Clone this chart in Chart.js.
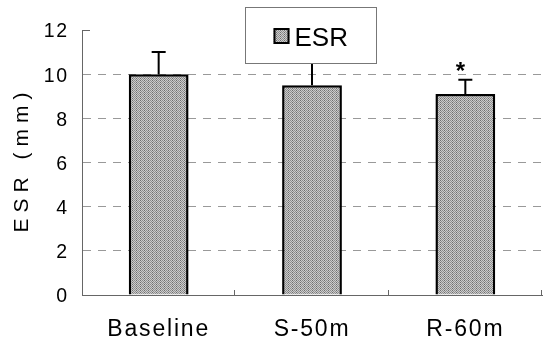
<!DOCTYPE html>
<html>
<head>
<meta charset="utf-8">
<script src="https://cdn.jsdelivr.net/npm/chart.js@4/dist/chart.umd.min.js"></script>
<style>
    html, body { margin: 0; padding: 0; background: #fff; }
    #wrap { width: 543px; height: 343px; }
</style>
</head>
<body>
<div id="wrap"><canvas id="esrGraph"></canvas></div>
<script>
const categories = ['Baseline', 'S-50m', 'R-60m'];
const esrMean = [10.0, 9.5, 9.1];
const esrError = [1.0, 1.1, 0.65];
const significance = ['', '', '*'];
const yTicks = [0, 2, 4, 6, 8, 10, 12];

const fontFamily = "'Liberation Sans', Arial, sans-serif";

// grey stipple like the scanned bars
function makeStipple() {
    const c = document.createElement('canvas');
    c.width = 4;
    c.height = 4;
    const g = c.getContext('2d');
    const tones = ['#6e6e6e', '#cccccc', '#8e8e8e', '#bdbdbd'];
    for (let y = 0; y < 4; y++) {
        for (let x = 0; x < 4; x++) {
            g.fillStyle = ((x + y) % 2 == 0) ? tones[(x + 2 * y) % 4 == 0 ? 0 : 2] : tones[(x * y) % 2 == 0 ? 1 : 3];
            g.fillRect(x, y, 1, 1);
        }
    }
    return g.createPattern(c, 'repeat');
}

const stipple = makeStipple();

const spacingPlugin = {
    id: 'spacing',
    beforeDraw(chart) {
        chart.ctx.letterSpacing = '1.8px';
    },
    afterDraw(chart) {
        chart.ctx.letterSpacing = '0px';
    }
};

const extrasPlugin = {
    id: 'extras',
    afterDatasetsDraw(chart) {
        const ctx = chart.ctx;
        const yScale = chart.scales.y;
        const meta = chart.getDatasetMeta(0);
        ctx.save();
        ctx.strokeStyle = '#000';
        ctx.lineWidth = 2;
        meta.data.forEach(function(bar, i) {
            const top = yScale.getPixelForValue(esrMean[i] + esrError[i]);
            ctx.beginPath();
            ctx.moveTo(bar.x, bar.y);
            ctx.lineTo(bar.x, top);
            ctx.moveTo(bar.x - 7, top);
            ctx.lineTo(bar.x + 7, top);
            ctx.stroke();
            if (significance[i]) {
                ctx.fillStyle = '#000';
                ctx.font = 'bold 24px ' + fontFamily;
                ctx.textAlign = 'center';
                ctx.textBaseline = 'alphabetic';
                ctx.letterSpacing = '0px';
                ctx.fillText(significance[i], bar.x - 5, top - 1);
            }
        });
        ctx.restore();
    },
    afterDraw(chart) {
        const ctx = chart.ctx;
        const area = chart.chartArea;
        const yScale = chart.scales.y;
        ctx.save();
        ctx.letterSpacing = '0px';

        // small inward tick marks
        ctx.strokeStyle = '#666';
        ctx.lineWidth = 1;
        ctx.beginPath();
        const step = (area.right - area.left) / categories.length;
        for (let i = 1; i <= categories.length; i++) {
            const x = Math.round(area.left + step * i) - 0.5;
            ctx.moveTo(x, area.bottom);
            ctx.lineTo(x, area.bottom - 5);
        }
        const y12 = Math.round(yScale.getPixelForValue(12)) + 0.5;
        ctx.moveTo(area.left, y12);
        ctx.lineTo(area.left + 8, y12);
        ctx.stroke();

        // y title
        ctx.save();
        ctx.translate(22, (area.top + area.bottom) / 2);
        ctx.rotate(-Math.PI / 2);
        ctx.font = '21px ' + fontFamily;
        ctx.letterSpacing = '6px';
        ctx.fillStyle = '#000';
        ctx.textAlign = 'center';
        ctx.textBaseline = 'middle';
        ctx.fillText(chart.data.datasets[0].yTitle, 3, 0);
        ctx.restore();

        // legend box over the plot
        const boxW = 131;
        const boxX = Math.round((area.left + area.right) / 2 - 2 - boxW / 2) + 0.5;
        const boxY = 7.5;
        const boxH = 56;
        ctx.fillStyle = '#fff';
        ctx.fillRect(boxX, boxY, boxW, boxH);
        ctx.strokeStyle = '#777';
        ctx.lineWidth = 1;
        ctx.strokeRect(boxX, boxY, boxW, boxH);

        ctx.fillStyle = stipple;
        ctx.fillRect(boxX + 28, 28, 16, 16);
        ctx.strokeStyle = '#000';
        ctx.lineWidth = 2;
        ctx.strokeRect(boxX + 29, 29, 14, 14);

        ctx.fillStyle = '#000';
        ctx.font = '26px ' + fontFamily;
        ctx.textAlign = 'left';
        ctx.textBaseline = 'alphabetic';
        ctx.fillText(chart.data.datasets[0].label, boxX + 49, 46);
        ctx.restore();
    }
};

new Chart(document.getElementById('esrGraph'), {
    type: 'bar',
    data: {
        labels: categories,
        datasets: [{
            label: 'ESR',
            yTitle: 'ESR (mm)',
            data: esrMean,
            backgroundColor: stipple,
            borderColor: '#000',
            borderWidth: 2.5,
            borderSkipped: 'start',
            barPercentage: 0.39,
            categoryPercentage: 1.0
        }]
    },
    options: {
        responsive: true,
        maintainAspectRatio: false,
        animation: false,
        layout: {
            padding: { top: 30, right: 1, left: 0, bottom: 0 }
        },
        scales: {
            x: {
                grid: {
                    display: false
                },
                border: {
                    display: true,
                    color: '#666',
                    width: 1
                },
                ticks: {
                    color: '#000',
                    padding: 13,
                    font: { family: fontFamily, size: 23 }
                },
                afterFit: function(scale) {
                    scale.height = 48;
                }
            },
            y: {
                min: yTicks[0],
                max: yTicks[yTicks.length - 1],
                ticks: {
                    stepSize: yTicks[1] - yTicks[0],
                    color: '#000',
                    padding: 13,
                    labelOffset: 2,
                    font: { family: fontFamily, size: 19.5 }
                },
                grid: {
                    drawTicks: false,
                    color: function(context) {
                        const v = context.tick ? context.tick.value : 0;
                        if (v == yTicks[0] || v == yTicks[yTicks.length - 1])
                            return 'rgba(0,0,0,0)';
                        return '#999';
                    },
                    lineWidth: 1
                },
                border: {
                    display: true,
                    color: '#666',
                    width: 1,
                    dash: [8, 7]
                },
                afterFit: function(scale) {
                    scale.width = 82;
                }
            }
        },
        plugins: {
            legend: {
                display: false
            },
            tooltip: {
                enabled: false
            }
        }
    },
    plugins: [spacingPlugin, extrasPlugin]
});
</script>
</body>
</html>
